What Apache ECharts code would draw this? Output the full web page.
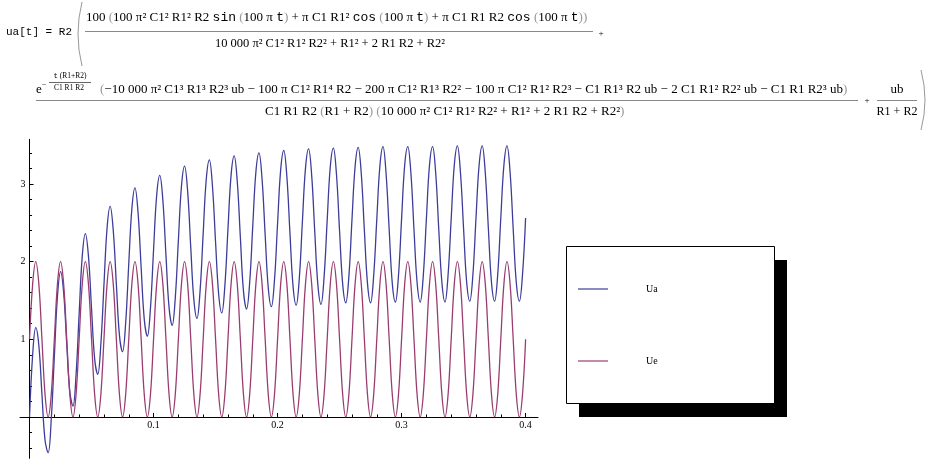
<!DOCTYPE html>
<html><head><meta charset="utf-8">
<script src="https://cdn.jsdelivr.net/npm/echarts@6/dist/echarts.min.js"></script>
<style>html,body{margin:0;padding:0;background:#fff}#c{width:929px;height:470px}</style>
</head><body><div id="c"></div>
<script>
// sampling step of the values below (seconds)
const STEP = 0.0025;
const seriesNames = ['Ua', 'Ue'];
// Ua values, t = 0 .. 0.4
const ua = [
  0.00, 0.80, 1.15, 0.92, 0.29, -0.30, -0.46, -0.03,
  0.78, 1.55, 1.87, 1.60, 0.94, 0.32, 0.14, 0.54,
  1.33, 2.07, 2.36, 2.07, 1.39, 0.75, 0.55, 0.94,
  1.70, 2.43, 2.71, 2.40, 1.71, 1.05, 0.84, 1.21,
  1.97, 2.68, 2.95, 2.63, 1.92, 1.26, 1.04, 1.40,
  2.15, 2.85, 3.11, 2.79, 2.08, 1.41, 1.18, 1.53,
  2.27, 2.97, 3.23, 2.90, 2.18, 1.51, 1.27, 1.62,
  2.36, 3.06, 3.31, 2.97, 2.25, 1.58, 1.34, 1.69,
  2.42, 3.11, 3.36, 3.03, 2.31, 1.62, 1.39, 1.73,
  2.46, 3.15, 3.40, 3.06, 2.34, 1.66, 1.42, 1.76,
  2.49, 3.18, 3.43, 3.09, 2.36, 1.68, 1.44, 1.78,
  2.51, 3.20, 3.45, 3.11, 2.38, 1.70, 1.45, 1.80,
  2.53, 3.22, 3.46, 3.12, 2.39, 1.71, 1.47, 1.81,
  2.54, 3.22, 3.47, 3.13, 2.40, 1.72, 1.47, 1.82,
  2.54, 3.23, 3.48, 3.13, 2.41, 1.72, 1.48, 1.82,
  2.55, 3.24, 3.48, 3.14, 2.41, 1.73, 1.48, 1.82,
  2.55, 3.24, 3.48, 3.14, 2.41, 1.73, 1.48, 1.83,
  2.55, 3.24, 3.49, 3.14, 2.42, 1.73, 1.49, 1.83,
  2.56, 3.24, 3.49, 3.14, 2.42, 1.73, 1.49, 1.83,
  2.56, 3.24, 3.49, 3.15, 2.42, 1.73, 1.49, 1.83,
  2.56
];
// Ue values, t = 0 .. 0.4
const ue = [
  1, 1.71, 2, 1.71, 1, 0.29, 0, 0.29,
  1, 1.71, 2, 1.71, 1, 0.29, 0, 0.29,
  1, 1.71, 2, 1.71, 1, 0.29, 0, 0.29,
  1, 1.71, 2, 1.71, 1, 0.29, 0, 0.29,
  1, 1.71, 2, 1.71, 1, 0.29, 0, 0.29,
  1, 1.71, 2, 1.71, 1, 0.29, 0, 0.29,
  1, 1.71, 2, 1.71, 1, 0.29, 0, 0.29,
  1, 1.71, 2, 1.71, 1, 0.29, 0, 0.29,
  1, 1.71, 2, 1.71, 1, 0.29, 0, 0.29,
  1, 1.71, 2, 1.71, 1, 0.29, 0, 0.29,
  1, 1.71, 2, 1.71, 1, 0.29, 0, 0.29,
  1, 1.71, 2, 1.71, 1, 0.29, 0, 0.29,
  1, 1.71, 2, 1.71, 1, 0.29, 0, 0.29,
  1, 1.71, 2, 1.71, 1, 0.29, 0, 0.29,
  1, 1.71, 2, 1.71, 1, 0.29, 0, 0.29,
  1, 1.71, 2, 1.71, 1, 0.29, 0, 0.29,
  1, 1.71, 2, 1.71, 1, 0.29, 0, 0.29,
  1, 1.71, 2, 1.71, 1, 0.29, 0, 0.29,
  1, 1.71, 2, 1.71, 1, 0.29, 0, 0.29,
  1, 1.71, 2, 1.71, 1, 0.29, 0, 0.29,
  1
];
// tick labels / tick positions
const xMajor = [0.1, 0.2, 0.3, 0.4];
const xMinor = [0.02, 0.04, 0.06, 0.08, 0.12, 0.14, 0.16, 0.18, 0.22, 0.24, 0.26, 0.28, 0.32, 0.34, 0.36, 0.38];
const yMajor = [1, 2, 3];
const yMinor = [-0.4, -0.2, 0.2, 0.4, 0.6, 0.8, 1.2, 1.4, 1.6, 1.8, 2.2, 2.4, 2.6, 2.8, 3.2, 3.4];
const X_RANGE = [-0.0077, 0.41];
const Y_RANGE = [-0.532, 3.574];

// plot frame (pixels)
const GRID = {left: 20, top: 139.3, width: 518, height: 319};
// place the axes where the other axis is zero (as in the original)
const X_AXIS_OFFSET = -(0 - Y_RANGE[0]) / (Y_RANGE[1] - Y_RANGE[0]) * GRID.height;
const Y_AXIS_OFFSET = -(0 - X_RANGE[0]) / (X_RANGE[1] - X_RANGE[0]) * GRID.width;

const SERIF = '"Liberation Serif","DejaVu Serif",serif';
const MONO = '"Liberation Mono","DejaVu Sans Mono",monospace';
const COLORS = ['#3d3d99', '#993d71'];

function rs(size) {
  return {
    s: {fontFamily: SERIF, fontSize: size, fill: '#000', color: '#000'},
    m: {fontFamily: MONO, fontSize: size, fill: '#000', color: '#000'},
    p: {fontFamily: SERIF, fontSize: size, fill: '#999', color: '#999'}
  };
}
function txt(x, y, text, size, align, family, rich) {
  return {
    type: 'text', x: 0, y: 0, silent: true,
    style: {
      x: x, y: y, text: text, fontFamily: family || SERIF, fontSize: size,
      fill: '#000', align: align || 'left', textAlign: align || 'left',
      verticalAlign: 'middle', textVerticalAlign: 'middle', rich: rich
    }
  };
}
function hline(x1, x2, y, color) {
  return {type: 'line', silent: true, shape: {x1: x1, y1: y, x2: x2, y2: y}, style: {stroke: color || '#888', lineWidth: 1}};
}
function paren(x, y1, y2, bulge) {
  return {type: 'bezierCurve', silent: true,
    shape: {x1: x, y1: y1, x2: x, y2: y2, cpx1: x + bulge, cpy1: (y1 + y2) / 2},
    style: {stroke: '#999', lineWidth: 1, fill: null}};
}

const num1 = '{s|100 }{p|(}{s|100 π² C1² R1² R2 }{m|sin}{p| (}{s|100 π }{m|t}{p|)}{s| + π C1 R1² }{m|cos}{p| (}{s|100 π }{m|t}{p|)}{s| + π C1 R1 R2 }{m|cos}{p| (}{s|100 π }{m|t}{p|)}{p|)}';
const den1 = '10 000 π² C1² R1² R2² + R1² + 2 R1 R2 + R2²';
const num2 = '{p|(}{s|−10 000 π² C1³ R1³ R2³ ub − 100 π C1² R1⁴ R2 − 200 π C1² R1³ R2² − 100 π C1² R1² R2³ − C1 R1³ R2 ub − 2 C1 R1² R2² ub − C1 R1 R2³ ub}{p|)}';
const den2 = '{s|C1 R1 R2 }{p|(}{s|R1 + R2}{p|)}{s| }{p|(}{s|10 000 π² C1² R1² R2² + R1² + 2 R1 R2 + R2²}{p|)}';

const graphics = [
  // formula line 1
  txt(6, 32, 'ua[t] = R2', 11, 'left', MONO),
  paren(82, 2, 66, -8),
  txt(86, 18, num1, 13, 'left', SERIF, rs(13)),
  hline(85, 593, 31.5),
  txt(330, 44, den1, 12.5, 'center'),
  txt(601, 34, '+', 9, 'center'),
  // formula line 2
  txt(36, 90, 'e', 13, 'left'),
  txt(44, 85, '−', 8, 'center'),
  txt(70, 76, '{m|t}{s| (R1+R2)}', 7.5, 'center', SERIF, rs(7.5)),
  hline(49, 91, 82.5, '#666'),
  txt(69, 88, 'C1 R1 R2', 7.5, 'center'),
  txt(100, 90, num2, 13, 'left', SERIF, rs(13)),
  hline(36, 858, 100.5),
  txt(265, 112, den2, 13, 'left', SERIF, rs(13)),
  txt(867, 101, '+', 9, 'center'),
  txt(897, 90, 'ub', 13, 'center'),
  hline(877, 917, 100.5),
  txt(897, 112, 'R1 + R2', 12, 'center'),
  paren(921, 70, 130, 8),
  // legend frame with shadow
  {type: 'rect', silent: true, shape: {x: 579, y: 260, width: 208, height: 157}, style: {fill: '#000'}},
  {type: 'rect', silent: true, shape: {x: 566.5, y: 246.5, width: 208, height: 157}, style: {fill: '#fff', stroke: '#000', lineWidth: 1}}
];

const axisLabelStyle = {fontFamily: SERIF, fontSize: 10, color: '#000'};

const option = {
  animation: false,
  backgroundColor: '#fff',
  grid: {left: GRID.left, top: GRID.top, width: GRID.width, height: GRID.height, containLabel: false, outerBoundsMode: 'none'},
  graphic: {elements: graphics},
  legend: {
    data: seriesNames, orient: 'vertical', left: 578, top: 284, padding: 0,
    itemWidth: 30, itemHeight: 2, itemGap: 62, icon: 'rect', selectedMode: false,
    itemStyle: {opacity: 0.6},
    textStyle: {fontFamily: SERIF, fontSize: 10, color: '#000', padding: [0, 0, 0, 33]}
  },
  xAxis: [
    {type: 'value', min: X_RANGE[0], max: X_RANGE[1], position: 'bottom', offset: X_AXIS_OFFSET,
     axisLine: {onZero: false, lineStyle: {color: '#000', width: 1}},
     axisTick: {inside: true, length: 4, customValues: xMajor, lineStyle: {color: '#000'}},
     axisLabel: Object.assign({customValues: xMajor, margin: 3}, axisLabelStyle),
     splitLine: {show: false}},
    {type: 'value', min: X_RANGE[0], max: X_RANGE[1], position: 'bottom', offset: X_AXIS_OFFSET,
     axisLine: {show: false, onZero: false},
     axisTick: {inside: true, length: 2.5, customValues: xMinor, lineStyle: {color: '#000'}},
     axisLabel: {show: false}, splitLine: {show: false}}
  ],
  yAxis: [
    {type: 'value', min: Y_RANGE[0], max: Y_RANGE[1], position: 'left', offset: Y_AXIS_OFFSET,
     axisLine: {show: true, onZero: false, lineStyle: {color: '#000', width: 1}},
     axisTick: {show: true, inside: true, length: 4, customValues: yMajor, lineStyle: {color: '#000'}},
     axisLabel: Object.assign({customValues: yMajor, margin: 4}, axisLabelStyle),
     splitLine: {show: false}},
    {type: 'value', min: Y_RANGE[0], max: Y_RANGE[1], position: 'left', offset: Y_AXIS_OFFSET,
     axisLine: {show: false, onZero: false},
     axisTick: {show: true, inside: true, length: 2.5, customValues: yMinor, lineStyle: {color: '#000'}},
     axisLabel: {show: false}, splitLine: {show: false}}
  ],
  series: [
    {name: seriesNames[0], type: 'line', xAxisIndex: 0, yAxisIndex: 0,
     data: ua.map((v, i) => [+(i * STEP).toFixed(4), v]),
     symbol: 'none', showSymbol: false, smooth: 0.4, silent: true,
     lineStyle: {color: COLORS[0], width: 1.3}, itemStyle: {color: COLORS[0]}},
    {name: seriesNames[1], type: 'line', xAxisIndex: 0, yAxisIndex: 0,
     data: ue.map((v, i) => [+(i * STEP).toFixed(4), v]),
     symbol: 'none', showSymbol: false, smooth: 0.4, silent: true,
     lineStyle: {color: COLORS[1], width: 1.3}, itemStyle: {color: COLORS[1]}}
  ]
};
const chart = echarts.init(document.getElementById('c'), null, {renderer: 'canvas'});
chart.setOption(option);
</script>
</body></html>
